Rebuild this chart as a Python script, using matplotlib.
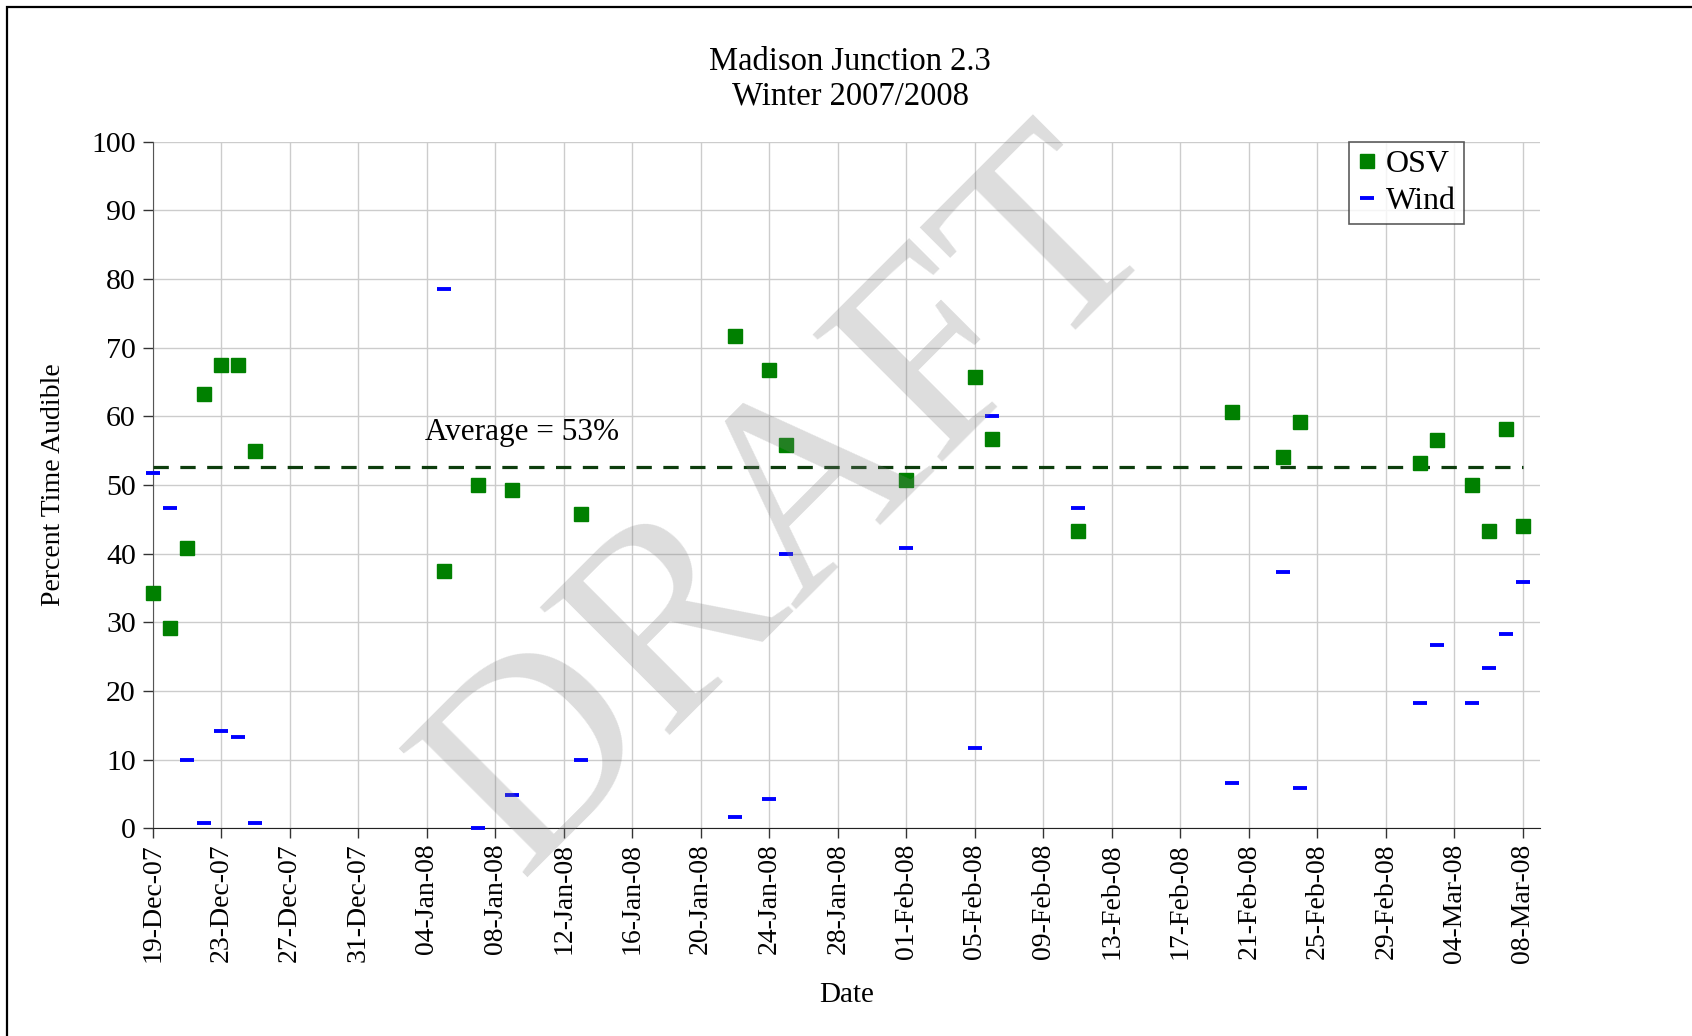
import numpy as np
import pandas as pd
import matplotlib
matplotlib.use("Agg")
import matplotlib.pyplot as plt
import matplotlib.dates as mdates
from matplotlib.patches import Rectangle

plt.rcParams['font.family'] = ['Liberation Serif', 'DejaVu Serif']

# survey days
dates = ["2007-12-19", "2007-12-20", "2007-12-21", "2007-12-22", "2007-12-23",
         "2007-12-24", "2007-12-25", "2008-01-05", "2008-01-07", "2008-01-09",
         "2008-01-13", "2008-01-22", "2008-01-24", "2008-01-25", "2008-02-01",
         "2008-02-05", "2008-02-06", "2008-02-11", "2008-02-20", "2008-02-23",
         "2008-02-24", "2008-03-02", "2008-03-03", "2008-03-05", "2008-03-06",
         "2008-03-07", "2008-03-08"]

# percent time audible
osv = [34.2, 29.2, 40.8, 63.2, 67.5, 67.5, 55.0, 37.5, 50.0, 49.2,
       45.8, 71.7, 66.7, 55.8, 50.8, 65.8, 56.7, 43.3, 60.7, 54.1,
       59.2, 53.2, 56.6, 50.0, 43.3, 58.2, 44.1]
wind = [51.7, 46.7, 10.0, 0.8, 14.2, 13.3, 0.8, 78.5, 0.0, 4.9,
        10.0, 1.6, 4.2, 40.0, 40.8, 11.7, 60.1, 46.7, 6.6, 37.4,
        5.8, 18.3, 26.7, 18.3, 23.3, 28.3, 35.8]

average = 52.6
avg_label = "Average = 53%"

tick_start = "2007-12-19"
tick_end = "2008-03-08"

x = pd.to_datetime(dates)

fig = plt.figure(figsize=(16.92, 10.36), dpi=100)
ax = fig.add_axes([0.0902, 0.2005, 0.82, 0.6627])

ax.plot(x, osv, 's', color='#008000', markersize=10.4, mec='#008000',
        label='OSV', zorder=4, clip_on=False)
ax.plot(x, wind, '_', color='#0000ff', markersize=10.4, mew=2.8,
        label='Wind', zorder=4, clip_on=False)
ax.plot([x[0], x[-1]], [average, average], '--', color='#0d3d0d', lw=2.3,
        dashes=(4.8, 3.6), zorder=3)
ax.text(pd.Timestamp("2008-01-03 22:00"), 57.7, avg_label, fontsize=22.5,
        ha='left', va='center')

ax.set_xlim(pd.Timestamp("2007-12-19"), pd.Timestamp("2008-03-09"))
ax.set_ylim(0, 100)
ax.set_yticks(np.arange(0, 101, 10))
ax.set_xticks(pd.date_range(tick_start, tick_end, freq='4D'))
ax.xaxis.set_major_formatter(mdates.DateFormatter('%d-%b-%y'))
plt.setp(ax.get_xticklabels(), rotation=90)

ax.tick_params(axis='both', length=7, width=1, color='#333333', direction='out')
ax.tick_params(axis='x', labelsize=20, pad=4)
ax.tick_params(axis='y', labelsize=21.5, pad=5)

ax.grid(True, color='#cccccc', lw=1)
ax.set_axisbelow(True)
for s in ['top', 'right']:
    ax.spines[s].set_visible(False)
ax.spines['left'].set_color('#555555')
ax.spines['bottom'].set_color('#222222')

ax.set_xlabel('Date', fontsize=21, labelpad=14)
ax.set_ylabel('Percent Time Audible', fontsize=20, labelpad=18)

fig.text(0.5025, 0.940, "Madison Junction 2.3", ha='center', va='center',
         fontsize=23.5)
fig.text(0.5025, 0.907, "Winter 2007/2008", ha='center', va='center',
         fontsize=23.5)

leg = ax.legend(loc='upper right', bbox_to_anchor=(0.945, 1.0), borderaxespad=0,
                fontsize=23, frameon=True, fancybox=False, handlelength=0.6,
                handletextpad=0.3, borderpad=0.25, labelspacing=0.25)
leg.get_frame().set_edgecolor('#333333')
leg.get_frame().set_linewidth(1.2)

# watermark
fig.text(0.4695, 0.51, 'DRAFT', rotation=45, fontsize=200, color='#808080',
         alpha=0.27, ha='center', va='center', zorder=10)

# outer frame (cut off at right and bottom)
fig.patches.append(Rectangle((7 / 1692, -0.1), 1.2, 1.1 - 7 / 1036,
                             transform=fig.transFigure, fill=False,
                             edgecolor='black', lw=1.6))

fig.savefig('out.png', dpi=100)
